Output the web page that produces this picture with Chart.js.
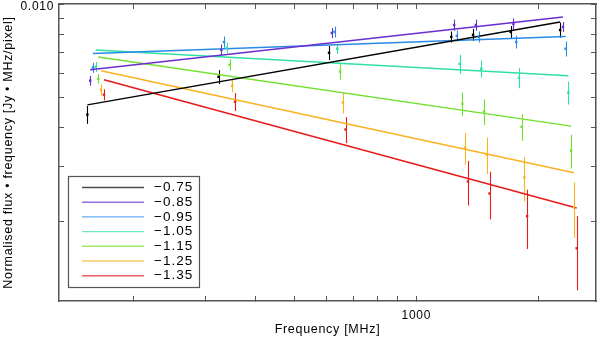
<!DOCTYPE html>
<html>
<head>
<meta charset="utf-8">
<script src="https://cdn.jsdelivr.net/npm/chart.js@4.4.1/dist/chart.umd.min.js"></script>
<style>
html, body { margin: 0; padding: 0; background: #fff; }
</style>
</head>
<body>
<canvas id="chart1" width="600" height="338"></canvas>
<script>
// spectral index of each model, used as legend text
var labels = ['\u22120.75', '\u22120.85', '\u22120.95', '\u22121.05', '\u22121.15', '\u22121.25', '\u22121.35'];
var colors = ['#000000', '#6a2ecf', '#2a8ae8', '#2ee0a5', '#72e030', '#f8b222', '#e81a1a'];

// frequencies [MHz] (each series is shifted a little so the bars do not overlap)
var freq075 = [153.5, 324.0, 608.1, 1220, 1381, 1711, 2268];
var freq085 = [156.0, 329.2, 617.7, 1240, 1403, 1738, 2304];
var freq095 = [158.4, 334.3, 627.4, 1259, 1425, 1765, 2340];
var freq105 = [160.9, 339.6, 637.3, 1279, 1447, 1793, 2377];
var freq115 = [163.4, 345.0, 647.4, 1299, 1470, 1821, 2415];
var freq125 = [166.0, 350.4, 657.6, 1320, 1493, 1850, 2453];
var freq135 = [168.7, 356.0, 668.0, 1341, 1517, 1879, 2492];

// normalised flux * frequency
var flux075 = [0.00441, 0.00583, 0.00697, 0.00784, 0.00796, 0.00813, 0.00825];
var flux085 = [0.00567, 0.00712, 0.00807, 0.00856, 0.00856, 0.00863, 0.00844];
var flux095 = [0.00624, 0.00755, 0.00813, 0.00790, 0.00784, 0.00755, 0.00718];
var flux105 = [0.00628, 0.00723, 0.00718, 0.00642, 0.00619, 0.00579, 0.00519];
var flux115 = [0.00575, 0.00638, 0.00606, 0.00478, 0.00451, 0.00403, 0.00338];
var flux125 = [0.00530, 0.00546, 0.00482, 0.00345, 0.00328, 0.00277, 0.00222];
var flux135 = [0.00511, 0.00485, 0.00395, 0.00269, 0.00246, 0.00208, 0.00164];

// 1 sigma errors
var err075 = [0.00029, 0.00030, 0.00036, 0.00032, 0.00035, 0.00036, 0.00046];
var err085 = [0.00021, 0.00029, 0.00030, 0.00035, 0.00035, 0.00035, 0.00031];
var err095 = [0.00023, 0.00031, 0.00033, 0.00032, 0.00032, 0.00036, 0.00040];
var err105 = [0.00023, 0.00027, 0.00026, 0.00045, 0.00039, 0.00043, 0.00044];
var err115 = [0.00021, 0.00028, 0.00036, 0.00041, 0.00043, 0.00040, 0.00042];
var err125 = [0.00022, 0.00026, 0.00037, 0.00040, 0.00044, 0.00045, 0.00045];
var err135 = [0.00021, 0.00032, 0.00038, 0.00044, 0.00043, 0.00045, 0.00044];

// fitted power law: value at first and last frequency
var fit075 = [0.00474, 0.00876];
var fit085 = [0.00615, 0.00909];
var fit095 = [0.00693, 0.00786];
var fit105 = [0.00711, 0.00588];
var fit115 = [0.00676, 0.00405];
var fit125 = [0.00610, 0.00287];
var fit135 = [0.00571, 0.00221];

var xTicks = [200, 300, 400, 500, 600, 700, 800, 900, 1000, 2000];
var yTicks = [0.002, 0.003, 0.004, 0.005, 0.006, 0.007, 0.008, 0.009, 0.010];

var freqs = [freq075, freq085, freq095, freq105, freq115, freq125, freq135];
var fluxes = [flux075, flux085, flux095, flux105, flux115, flux125, flux135];
var errs = [err075, err085, err095, err105, err115, err125, err135];
var fits = [fit075, fit085, fit095, fit105, fit115, fit125, fit135];

var FONT = '"Liberation Sans", Arial, sans-serif';
var AXIS = '#555555';

let pointSets = [], lineSets = [];
for (let i = 0; i < labels.length; i++) {
    let f = freqs[i];
    pointSets.push({
        label: labels[i],
        data: f.map((x, j) => ({x: x, y: fluxes[i][j], err: errs[i][j]})),
        errBars: true,
        showLine: false,
        pointStyle: 'rect',
        pointRadius: 1.7,
        borderWidth: 0,
        backgroundColor: colors[i],
        borderColor: colors[i]
    });
    lineSets.push({
        label: labels[i],
        data: [{x: f[0], y: fits[i][0]}, {x: f[f.length - 1], y: fits[i][1]}],
        showLine: true,
        pointRadius: 0,
        borderWidth: 1.5,
        borderColor: colors[i],
        backgroundColor: colors[i]
    });
}

// vertical error bars
const errorBars = {
    id: 'errorBars',
    beforeDatasetsDraw(chart) {
        const ctx = chart.ctx, xs = chart.scales.x, ys = chart.scales.y, a = chart.chartArea;
        ctx.save();
        ctx.beginPath();
        ctx.rect(a.left, a.top, a.right - a.left, a.bottom - a.top);
        ctx.clip();
        chart.data.datasets.forEach(ds => {
            if (!ds.errBars) return;
            ctx.strokeStyle = ds.borderColor;
            ctx.lineWidth = 1.1;
            ds.data.forEach(p => {
                let px = Math.round(xs.getPixelForValue(p.x)) + 0.5;
                ctx.beginPath();
                ctx.moveTo(px, ys.getPixelForValue(p.y - p.err));
                ctx.lineTo(px, ys.getPixelForValue(p.y + p.err));
                ctx.stroke();
            });
        });
        ctx.restore();
    }
};

// the reference text is set a little wide
const spacing = {
    id: 'spacing',
    beforeDraw(chart) { chart.ctx.letterSpacing = '0.7px'; }
};

// boxed legend in the lower left corner of the plot
const boxLegend = {
    id: 'boxLegend',
    afterDraw(chart) {
        const ctx = chart.ctx, a = chart.chartArea;
        let left = a.left + 9, right = a.left + 140, bottom = a.bottom - 14, top = bottom - 111;
        ctx.save();
        ctx.fillStyle = '#fff';
        ctx.fillRect(left, top, right - left, bottom - top);
        ctx.strokeStyle = AXIS;
        ctx.lineWidth = 1.2;
        ctx.strokeRect(left + 0.5, top + 0.5, right - left, bottom - top);
        ctx.font = '13.5px ' + FONT;
        ctx.letterSpacing = '1px';
        ctx.textBaseline = 'middle';
        for (let i = 0; i < labels.length; i++) {
            let y = top + 11.5 + i * 14.7;
            ctx.globalAlpha = 0.7;
            ctx.strokeStyle = colors[i];
            ctx.lineWidth = 1.4;
            ctx.beginPath();
            ctx.moveTo(left + 14, y);
            ctx.lineTo(left + 76, y);
            ctx.stroke();
            ctx.globalAlpha = 1;
            ctx.fillStyle = '#000';
            ctx.fillText(labels[i], left + 86, y);
        }
        ctx.restore();
    }
};

function fixSize(w, h) {
    return function(scale) {
        if (w != null) scale.width = w;
        if (h != null) scale.height = h;
        scale.paddingTop = 0; scale.paddingBottom = 0;
        scale.paddingLeft = 0; scale.paddingRight = 0;
    };
}

function axisOpts(ticksList, pos, showLabels) {
    return {
        type: 'logarithmic',
        position: pos,
        border: {display: true, color: AXIS, width: 1.5},
        grid: {display: true, drawOnChartArea: false, drawTicks: true, tickLength: -5, tickColor: AXIS, tickWidth: 1},
        afterBuildTicks: scale => { scale.ticks = ticksList.map(v => ({value: v})); },
        ticks: {display: showLabels, autoSkip: false, maxRotation: 0, color: '#000', font: {family: FONT, size: 12}}
    };
}

let xOpts = axisOpts(xTicks, 'bottom', true);
xOpts.min = 130.6; xOpts.max = 2782;
xOpts.ticks.padding = 12;
xOpts.ticks.callback = v => (v === 1000 ? '1000' : '');
xOpts.title = {display: true, text: 'Frequency [MHz]', color: '#000', font: {family: FONT, size: 12.5}, padding: {top: 0, bottom: 1}};
xOpts.afterFit = fixSize(null, 37);

let x2Opts = axisOpts(xTicks, 'top', false);
x2Opts.axis = 'x';
x2Opts.min = 130.6; x2Opts.max = 2782;
x2Opts.afterFit = fixSize(null, 3);

let yOpts = axisOpts(yTicks, 'left', true);
yOpts.min = 0.00111; yOpts.max = 0.010;
yOpts.ticks.padding = 10;
yOpts.ticks.labelOffset = 3;
yOpts.ticks.callback = v => (v === 0.01 ? '0.010' : '');
yOpts.title = {display: true, text: 'Normalised flux \u2022 frequency [Jy \u2022 MHz/pixel]', color: '#000', font: {family: FONT, size: 12.5}, padding: {top: 1, bottom: 0}};
yOpts.afterFit = fixSize(59, null);

let y2Opts = axisOpts(yTicks, 'right', false);
y2Opts.axis = 'y';
y2Opts.min = 0.00111; y2Opts.max = 0.010;
y2Opts.afterFit = fixSize(3, null);

let config = {
    type: 'scatter',
    data: {datasets: pointSets.concat(lineSets)},
    options: {
        responsive: false,
        animation: false,
        layout: {padding: 0},
        plugins: {legend: {display: false}, tooltip: {enabled: false}},
        scales: {x: xOpts, x2: x2Opts, y: yOpts, y2: y2Opts}
    },
    plugins: [spacing, errorBars, boxLegend]
};

var chart1 = new Chart(document.getElementById('chart1'), config);
</script>
</body>
</html>
